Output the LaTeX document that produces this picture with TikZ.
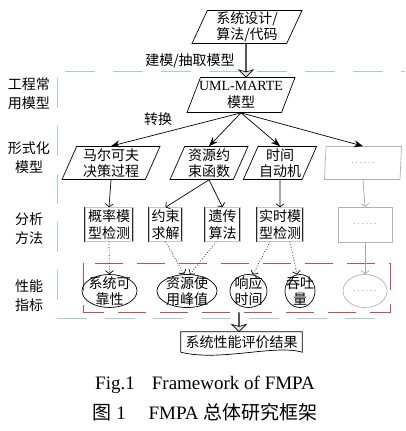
\documentclass[tikz,border=0pt]{standalone}
\usepackage{fontspec}
\setmainfont{Liberation Serif}
\newfontfamily\cjk{Noto Sans CJK SC}
\usepackage{tikz}
\usetikzlibrary{arrows.meta,shapes.geometric,shapes.arrows}
\usepackage{xcolor}

\definecolor{sepblue}{RGB}{165,205,215}
\definecolor{boxred}{RGB}{200,75,85}

\begin{document}
\begin{tikzpicture}[x=1pt,y=-1pt,
    every node/.style={font=\cjk\fontsize{14}{16.5}\selectfont, align=center, inner sep=1pt},
    rowlabel/.style={font=\cjk\fontsize{14}{19}\selectfont},
    para/.style={draw, trapezium, trapezium left angle=65, trapezium right angle=115,
        trapezium stretches body=true, minimum height=33pt, line width=0.7pt},
    method/.style={draw=black!85, double=gray!45, double distance=0.9pt, line width=0.5pt,
        minimum height=34pt, inner sep=1pt},
    perf/.style={draw, ellipse, line width=0.7pt, minimum height=33pt, inner sep=0pt},
    fat/.style={draw, fill=gray!25, single arrow, shape border rotate=270, line width=0.6pt,
        minimum width=10pt, single arrow head extend=7pt, single arrow head indent=2pt, inner sep=0pt},
    tr/.style={-{Stealth[length=9pt,width=7pt]}, line width=0.7pt},
    go/.style={-{Straight Barb[length=3pt,width=8pt]}, line width=0.7pt},
    sep/.style={sepblue, line width=0.7pt, dash pattern=on 30pt off 18pt},
    faint/.style={draw=gray!60, text=gray!70}
  ]
  \useasboundingbox (0,0) rectangle (405,431);
  \newcommand{\moredots}{{\rmfamily\fontsize{10}{10}\selectfont .\,.\,.\,.\,.\,.}}

  % row labels and frame
  \node[rowlabel] (lab1) at (29,94) {工程常\\用模型};
  \node[rowlabel] (lab2) at (29,158) {形式化\\模型};
  \node[rowlabel] (lab3) at (29,229) {分析\\方法};
  \node[rowlabel] (lab4) at (29,296) {性能\\指标};
  \draw[sep] (65,71) -- (405,71);
  \draw[sep] (57,78) -- (57,318) -- (393,318);
  \draw[boxred, line width=0.8pt, dash pattern=on 28pt off 14pt] (83,263) rectangle (390,312);

  % source and engineering model
  \node[para, minimum width=110pt] (sys) at (247,27) {系统设计/\\算法/代码};
  \node[para, minimum width=108pt, minimum height=35pt, inner xsep=-7pt] (uml) at (241,95)
      {{\rmfamily UML-MARTE}\\模型};
  \node[fat, minimum height=34pt] (a1) at (246,60) {};
  \node (lab5) at (190,61) {建模/抽取模型};
  \node (lab6) at (158,119) {转换};

  % formal models
  \node[para, minimum width=98pt] (mdp) at (111,163) {马尔可夫\\决策过程};
  \node[para, minimum width=78pt] (rcf) at (209,163) {资源约\\束函数};
  \node[para, minimum width=66pt] (ta) at (280,163) {时间\\自动机};
  \node[para, faint, minimum width=77pt] (fm4) at (363,163) {\moredots};
  \foreach \t in {mdp,rcf,ta}
    \draw[tr] (uml.south) -- (\t.north);
  \draw[tr] (uml.south) -- (fm4.north);

  % analysis methods
  \node[method, minimum width=48pt] (pmc) at (109,224.5) {概率模\\型检测};
  \node[method, minimum width=33pt] (csol) at (165.5,224.5) {约束\\求解};
  \node[method, minimum width=35pt] (ga) at (222.5,224.5) {遗传\\算法};
  \node[method, minimum width=46pt] (rtmc) at (280,224.5) {实时模\\型检测};
  \node[draw, faint, minimum width=54pt, minimum height=35pt] (am5) at (365,224.5) {\moredots};
  \draw[go] (mdp.south) -- (pmc.north);
  \draw[go] (rcf.south) -- (csol.north);
  \draw[go] (rcf.south) -- (ga.north);
  \draw[go] (ta.south) -- (rtmc.north);
  \draw[go, gray!70] (fm4.south) -- (am5.north);

  % performance indices
  \node[perf, minimum width=55pt, label={center:系统可\\靠性}] (rel) at (109.5,291) {};
  \node[perf, minimum width=60pt, label={center:资源使\\用峰值}] (peak) at (187,291) {};
  \node[perf, minimum width=37pt, label={center:响应\\时间}] (resp) at (248.5,291) {};
  \node[perf, minimum width=30pt, label={center:吞吐\\量}] (thr) at (300,291) {};
  \node[perf, faint, minimum width=44pt, label={[text=gray!70]center:\moredots}] (pi5) at (365,291) {};
  \draw[go, dotted] (pmc.south) -- (rel.north);
  \draw[go, dotted] (csol.south) -- (peak.100);
  \draw[go, dotted] (ga.250) -- (peak.80);
  \draw[go, dotted] (rtmc.240) -- (resp.75);
  \draw[go, dotted] (rtmc.300) -- (thr.100);
  \draw[go, gray!70] (am5.south) -- (pi5.north);

  % result
  \node[fat, minimum height=19pt] (a2) at (239,322) {};
  \node[minimum width=121pt, minimum height=20pt] (res) at (241.5,342) {系统性能评价结果};
  \draw[line width=0.7pt] (res.south west) -- (res.north west) -- (res.north east) -- (res.south east)
      .. controls (275,344) and (220,362) .. (res.south west);

  % caption
  \node[font=\rmfamily\fontsize{19}{22}\selectfont] (cap1) at (205,385) {Fig.1\hspace{0.9em}Framework of FMPA};
  \node[font=\rmfamily\fontsize{19}{22}\selectfont] (cap2) at (205,412)
      {{\cjk 图} 1\hspace{1.2em}FMPA {\cjk 总体研究框架}};
\end{tikzpicture}
\end{document}
